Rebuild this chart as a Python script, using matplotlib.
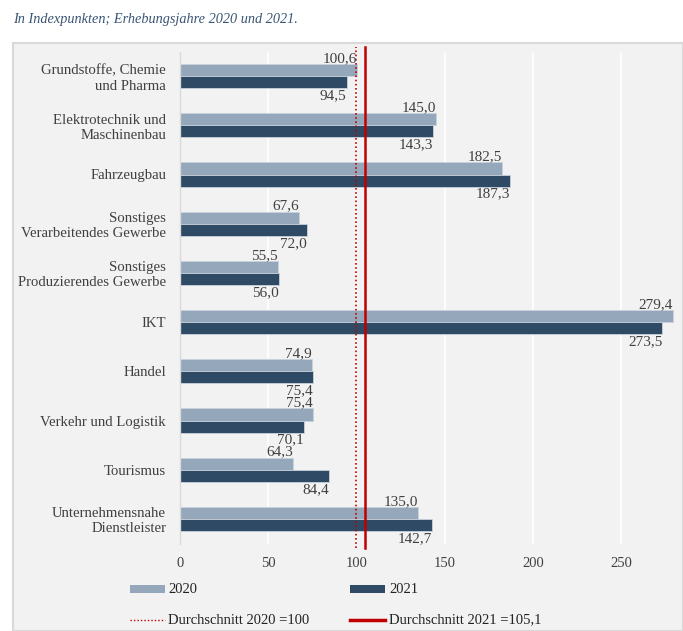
import matplotlib
matplotlib.use("Agg")
import matplotlib.pyplot as plt
from matplotlib.patches import Rectangle
from matplotlib.lines import Line2D
import numpy as np

categories = [
    "Grundstoffe, Chemie\nund Pharma",
    "Elektrotechnik und\nMaschinenbau",
    "Fahrzeugbau",
    "Sonstiges\nVerarbeitendes Gewerbe",
    "Sonstiges\nProduzierendes Gewerbe",
    "IKT",
    "Handel",
    "Verkehr und Logistik",
    "Tourismus",
    "Unternehmensnahe\nDienstleister",
]
values_2020 = [100.6, 145.0, 182.5, 67.6, 55.5, 279.4, 74.9, 75.4, 64.3, 135.0]
values_2021 = [94.5, 143.3, 187.3, 72.0, 56.0, 273.5, 75.4, 70.1, 84.4, 142.7]
avg_2020 = 100.0
avg_2021 = 105.1
xticks = [0, 50, 100, 150, 200, 250]

C2020 = "#94a7bb"
C2021 = "#2e4a64"
RED = "#c00000"
TXT = "#404040"
BG = "#f2f2f2"

plt.rcParams["font.family"] = ["Liberation Serif", "DejaVu Serif"]

W, H = 683, 631
fig = plt.figure(figsize=(W / 100, H / 100), dpi=100)
fig.patch.set_facecolor("white")

# grey panel behind the chart
bg_ax = fig.add_axes([0, 0, 1, 1], zorder=-5)
bg_ax.set_xlim(0, W)
bg_ax.set_ylim(H, 0)
bg_ax.axis("off")
bg_ax.add_patch(Rectangle((13, 43), W - 13, H - 43, facecolor=BG,
                          edgecolor="#d9d9d9", linewidth=1.5))

fig.text(13 / W, 1 - 20 / H, "In Indexpunkten; Erhebungsjahre 2020 und 2021.",
         fontsize=10.3, style="italic", color="#3a5574", va="center", ha="left")

# main axes
x0, x1 = 180, 180 + 280 * 1.764
y_top, y_bot = 51.5, 543.5
ax = fig.add_axes([x0 / W, 1 - y_bot / H, (x1 - x0) / W, (y_bot - y_top) / H])
ax.set_facecolor(BG)
ax.set_xlim(0, 280)
ax.set_ylim(len(categories) - 0.5, -0.5)

y = np.arange(len(categories))
bh = 0.245
ax.barh(y - bh / 2, values_2020, height=bh, color=C2020, edgecolor="#c8d2dc",
        linewidth=0.6, zorder=2)
ax.barh(y + bh / 2, values_2021, height=bh, color=C2021, edgecolor="#c8d2dc",
        linewidth=0.6, zorder=2)

for yi, v in zip(y, values_2020):
    ax.annotate(f"{v:.1f}".replace(".", ","), (v, yi - bh), xytext=(0, 1.5),
                textcoords="offset points", ha="right", va="baseline",
                fontsize=11, color=TXT, zorder=4)
for yi, v in zip(y, values_2021):
    ax.annotate(f"{v:.1f}".replace(".", ","), (v, yi + bh), xytext=(0, -0.8),
                textcoords="offset points", ha="right", va="top",
                fontsize=11, color=TXT, zorder=4)

ax.axvline(avg_2020, color=RED, linestyle=(0, (1, 1.5)), linewidth=1.2,
           ymin=-0.01, ymax=1.01, clip_on=False, zorder=3)
ax.axvline(avg_2021, color=RED, linestyle="-", linewidth=1.8,
           ymin=-0.01, ymax=1.01, clip_on=False, zorder=3)

ax.set_xticks(xticks)
ax.set_xticklabels([str(t) for t in xticks])
ax.set_yticks(y)
ax.set_yticklabels(categories, ha="right", linespacing=1.2)
ax.tick_params(axis="x", length=0, pad=10, labelsize=10.5, labelcolor=TXT)
ax.tick_params(axis="y", length=0, pad=10, labelsize=10.6, labelcolor=TXT)
ax.grid(axis="x", color="white", linewidth=1.2, zorder=1)
ax.set_axisbelow(True)
for s in ["top", "right", "bottom"]:
    ax.spines[s].set_visible(False)
ax.spines["left"].set_color("#d9d9d9")
ax.spines["left"].set_linewidth(1.0)

# legend drawn in pixel coordinates
lg = fig.add_axes([0, 0, 1, 1], facecolor="none")
lg.set_xlim(0, W)
lg.set_ylim(H, 0)
lg.axis("off")
lg.add_patch(Rectangle((130, 585), 35, 8, facecolor=C2020, edgecolor="none"))
lg.text(168, 589.5, "2020", fontsize=10.5, color="#222222", va="center")
lg.add_patch(Rectangle((350, 585), 35, 8, facecolor=C2021, edgecolor="none"))
lg.text(389, 589.5, "2021", fontsize=10.5, color="#222222", va="center")
lg.add_line(Line2D([130, 165], [620, 620], color=RED, linewidth=1.0,
                   linestyle=(0, (1, 1.5))))
lg.text(168, 620, "Durchschnitt 2020 =100", fontsize=10.5, color="#222222",
        va="center")
lg.add_line(Line2D([350, 385], [620, 620], color=RED, linewidth=2.5))
lg.text(389, 620, "Durchschnitt 2021 =105,1", fontsize=10.5, color="#222222",
        va="center")

fig.savefig("out.png", dpi=100, facecolor=fig.get_facecolor())
